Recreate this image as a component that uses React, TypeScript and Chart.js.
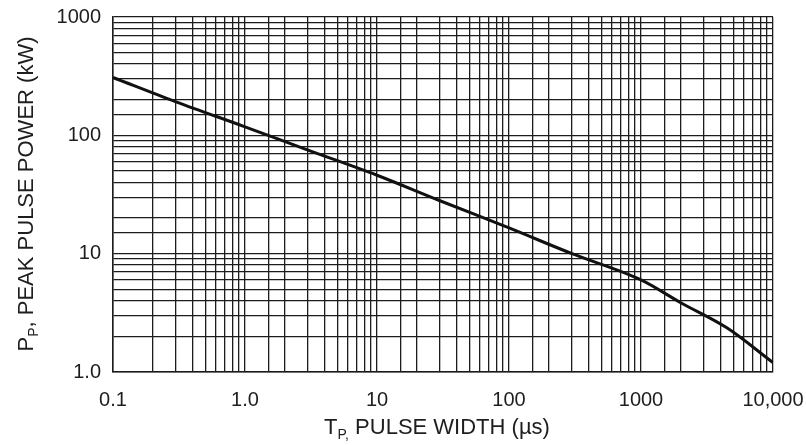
import React, { useEffect, useRef } from "react";
import { Chart, registerables } from "chart.js";

Chart.register(...registerables);

const pulseWidth = [0.1, 0.3, 1, 3, 10, 30, 100, 300, 1000, 2000, 4500, 10000];
const peakPower = [308, 192, 118, 75, 46, 28, 16.5, 10.0, 6.0, 3.85, 2.35, 1.2];

const xTickValues = [0.1, 1, 10, 100, 1000, 10000];
const xTickLabels = ["0.1", "1.0", "10", "100", "1000", "10,000"];
const yTickValues = [1, 10, 100, 1000];
const yTickLabels = ["1.0", "10", "100", "1000"];

const FONT = "'Liberation Sans', Arial, sans-serif";
const TEXT = "#1e1e1e";
const GRID = "#1c1c1c";

function isDecade(v: number) {
  const l = Math.log10(v);
  return Math.abs(l - Math.round(l)) < 1e-6;
}

function labelFor(v: number, vals: number[], labels: string[]) {
  for (let i = 0; i < vals.length; i++) {
    if (Math.abs(vals[i] - v) / vals[i] < 1e-6) return labels[i];
  }
  return "";
}

type Seg = { t: string; sub?: boolean };

function drawSegs(ctx: CanvasRenderingContext2D, segs: Seg[], cx: number, cy: number) {
  const big = `22px ${FONT}`;
  const small = `14px ${FONT}`;
  let total = 0;
  const widths = segs.map((s) => {
    ctx.font = s.sub ? small : big;
    const w = ctx.measureText(s.t).width;
    total += w;
    return w;
  });
  let x = cx - total / 2;
  ctx.textBaseline = "middle";
  ctx.textAlign = "left";
  segs.forEach((s, i) => {
    ctx.font = s.sub ? small : big;
    ctx.fillText(s.t, x, s.sub ? cy + 7 : cy);
    x += widths[i];
  });
}

const titlePlugin = {
  id: "axisTitles",
  afterDraw(chart: any) {
    const ctx = chart.ctx as CanvasRenderingContext2D;
    ctx.save();
    ctx.fillStyle = TEXT;
    drawSegs(
      ctx,
      [{ t: "T" }, { t: "P,", sub: true }, { t: " PULSE WIDTH (\u00b5s)" }],
      437,
      428
    );
    ctx.translate(27, 194);
    ctx.rotate(-Math.PI / 2);
    drawSegs(
      ctx,
      [{ t: "P" }, { t: "P", sub: true }, { t: ", PEAK PULSE POWER (kW)" }],
      0,
      0
    );
    ctx.restore();
  },
};

export default function App() {
  const ref = useRef<HTMLCanvasElement | null>(null);

  useEffect(() => {
    if (!ref.current) return;
    const chart = new Chart(ref.current, {
      type: "line",
      data: {
        datasets: [
          {
            data: pulseWidth.map((x, i) => ({ x, y: peakPower[i] })),
            borderColor: "#111",
            borderWidth: 3,
            pointRadius: 0,
            cubicInterpolationMode: "monotone",
            fill: false,
          },
        ],
      },
      options: {
        responsive: false,
        animation: false,
        layout: { padding: { left: 0, top: 17, right: 33, bottom: 0 } },
        plugins: { legend: { display: false }, tooltip: { enabled: false } },
        scales: {
          x: {
            type: "logarithmic",
            min: 0.1,
            max: 10000,
            afterFit: (s: any) => {
              s.height = 73;
              s.paddingLeft = 0;
              s.paddingRight = 0;
            },
            grid: { color: GRID, lineWidth: 1.3, drawTicks: false },
            border: { color: GRID, width: 1.5 },
            ticks: {
              autoSkip: false,
              maxRotation: 0,
              padding: 16,
              color: TEXT,
              font: { family: FONT, size: 20 },
              callback: (v: any) => (isDecade(Number(v)) ? labelFor(Number(v), xTickValues, xTickLabels) : ""),
            },
          },
          y: {
            type: "logarithmic",
            min: 1,
            max: 1000,
            afterFit: (s: any) => {
              s.width = 113;
              s.paddingTop = 0;
              s.paddingBottom = 0;
            },
            grid: { color: GRID, lineWidth: 1.3, drawTicks: false },
            border: { color: GRID, width: 1.5 },
            ticks: {
              autoSkip: false,
              padding: 12,
              color: TEXT,
              font: { family: FONT, size: 20 },
              callback: (v: any) => (isDecade(Number(v)) ? labelFor(Number(v), yTickValues, yTickLabels) : ""),
            },
          },
        },
      },
      plugins: [titlePlugin],
    } as any);
    return () => chart.destroy();
  }, []);

  return (
    <div style={{ position: "fixed", left: 0, top: 0, width: 806, height: 445, background: "#fff" }}>
      <canvas ref={ref} width={806} height={445} />
    </div>
  );
}
